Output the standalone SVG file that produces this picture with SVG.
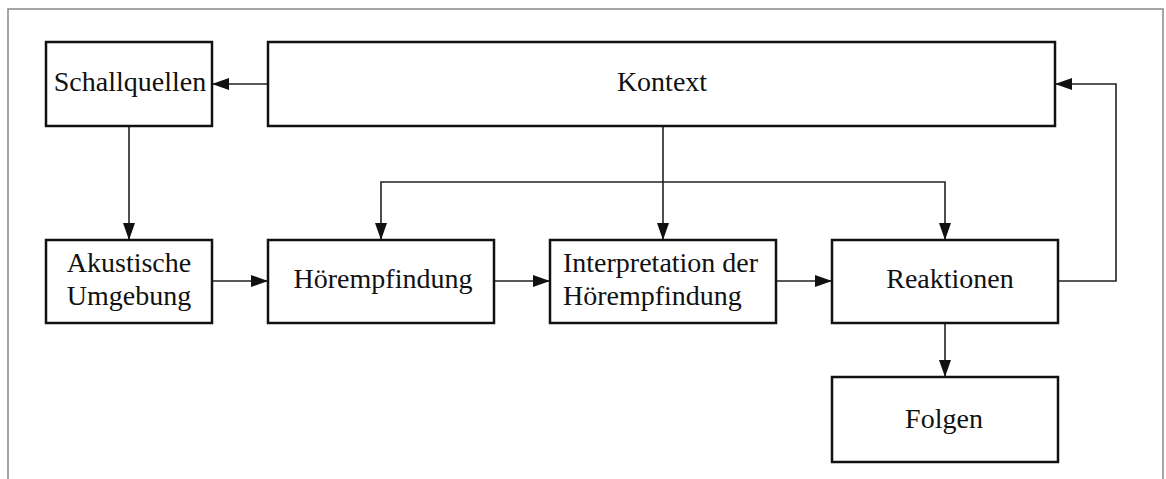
<svg xmlns="http://www.w3.org/2000/svg" width="1166" height="479" viewBox="0 0 1166 479">
<style>
.box{fill:#fff;stroke:#111;stroke-width:2.5}
.lbl{font-family:"Liberation Serif","Times New Roman",serif;font-size:28px;fill:#111}
.c{text-anchor:middle}
.con{fill:none;stroke:#222;stroke-width:1.6}
.frame{fill:none;stroke:#888;stroke-width:1.5}
</style>
<defs>
<marker id="ah" markerUnits="userSpaceOnUse" markerWidth="17" markerHeight="12" refX="16" refY="6" orient="auto">
<path d="M0,0 L17,6 L0,12 Z" fill="#111"/>
</marker>
</defs>
<rect width="1166" height="479" fill="#fff"/>
<polyline class="frame" points="8,479 8,9 1163,9 1163,479"/>
<g id="connectors">
<line class="con" x1="268" y1="84" x2="213" y2="84" marker-end="url(#ah)"/>
<line class="con" x1="129" y1="126" x2="129" y2="239" marker-end="url(#ah)"/>
<line class="con" x1="663" y1="126" x2="663" y2="239" marker-end="url(#ah)"/>
<polyline class="con" points="663,182 381,182 381,239" marker-end="url(#ah)"/>
<polyline class="con" points="663,182 945,182 945,239" marker-end="url(#ah)"/>
<line class="con" x1="212" y1="281" x2="267" y2="281" marker-end="url(#ah)"/>
<line class="con" x1="494" y1="281" x2="549" y2="281" marker-end="url(#ah)"/>
<line class="con" x1="776" y1="281" x2="831" y2="281" marker-end="url(#ah)"/>
<polyline class="con" points="1058,281 1116,281 1116,84 1056,84" marker-end="url(#ah)"/>
<line class="con" x1="945" y1="323" x2="945" y2="376" marker-end="url(#ah)"/>
</g>
<g id="schallquellen">
<rect class="box" x="46" y="42" width="166" height="84"/>
<text class="lbl c" x="130" y="91">Schallquellen</text>
</g>
<g id="kontext">
<rect class="box" x="268" y="42" width="787" height="84"/>
<text class="lbl c" x="662" y="91">Kontext</text>
</g>
<g id="akustische-umgebung">
<rect class="box" x="46" y="240" width="166" height="83"/>
<text class="lbl c" x="129" y="272">Akustische</text>
<text class="lbl c" x="129" y="305">Umgebung</text>
</g>
<g id="hoerempfindung">
<rect class="box" x="268" y="240" width="226" height="83"/>
<text class="lbl c" x="383" y="288">Hörempfindung</text>
</g>
<g id="interpretation">
<rect class="box" x="550" y="240" width="226" height="83"/>
<text class="lbl" x="563" y="272">Interpretation der</text>
<text class="lbl" x="563" y="305">Hörempfindung</text>
</g>
<g id="reaktionen">
<rect class="box" x="832" y="240" width="226" height="83"/>
<text class="lbl c" x="950" y="288">Reaktionen</text>
</g>
<g id="folgen">
<rect class="box" x="832" y="377" width="226" height="85"/>
<text class="lbl c" x="944" y="428">Folgen</text>
</g>
</svg>
